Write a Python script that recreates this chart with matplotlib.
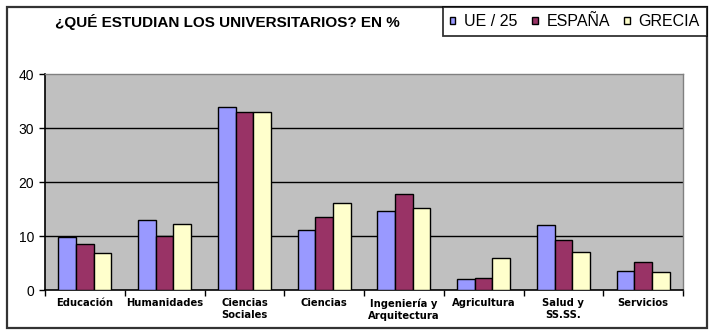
import matplotlib
matplotlib.use("Agg")
import matplotlib.pyplot as plt
import numpy as np
from matplotlib.patches import Rectangle
from matplotlib.ticker import FixedLocator

categories = ["Educación", "Humanidades", "Ciencias\nSociales", "Ciencias",
              "Ingeniería y\nArquitectura", "Agricultura", "Salud y\nSS.SS.", "Servicios"]
series_names = ["UE / 25", "ESPAÑA", "GRECIA"]
ue25 = [9.9, 13.0, 33.8, 11.1, 14.6, 2.0, 12.1, 3.5]
espana = [8.6, 10.0, 33.0, 13.5, 17.7, 2.3, 9.3, 5.1]
grecia = [6.8, 12.2, 33.0, 16.2, 15.1, 6.0, 7.0, 3.3]
yticks = [0, 10, 20, 30, 40]
title = "¿QUÉ ESTUDIAN LOS UNIVERSITARIOS? EN %"

colors = ["#9999FF", "#993366", "#FFFFCC"]

W, H = 714, 334
fig = plt.figure(figsize=(W / 100, H / 100), dpi=100)
fig.patch.set_facecolor("white")

ax = fig.add_axes([45 / W, 1 - 290 / H, (683 - 45) / W, (290 - 74) / H])
ax.set_facecolor("#C0C0C0")

x = np.arange(len(categories))
bw = 0.222
for i, (vals, c, name) in enumerate(zip([ue25, espana, grecia], colors, series_names)):
    ax.bar(x + (i - 1) * bw, vals, width=bw, color=c, edgecolor="black",
           linewidth=1.0, label=name, zorder=3)

ax.set_xlim(-0.5, len(categories) - 0.5)
ax.set_ylim(0, 40)
for yv in yticks[1:-1]:
    ax.axhline(yv, color="black", linewidth=1.0, zorder=1)

ax.set_yticks(yticks)
ax.set_yticklabels([str(v) for v in yticks], fontsize=10, family="Liberation Sans")
ax.tick_params(axis="y", direction="out", length=4, width=1, pad=4)

ax.set_xticks(x)
ax.set_xticklabels(categories, fontsize=7.2, fontweight="bold", family="DejaVu Sans",
                   linespacing=1.25)
ax.tick_params(axis="x", which="major", length=0, pad=6)
ax.xaxis.set_minor_locator(FixedLocator(np.arange(-0.5, len(categories), 1.0)))
ax.tick_params(axis="x", which="minor", direction="out", length=4, width=1)

for s in ["top", "right"]:
    ax.spines[s].set_color("#808080")
    ax.spines[s].set_linewidth(1)
for s in ["left", "bottom"]:
    ax.spines[s].set_color("black")
    ax.spines[s].set_linewidth(1.2)

# outer border
fig.add_artist(Rectangle((7 / W, 1 - 328 / H), 700 / W, 321 / H, transform=fig.transFigure,
                         fill=False, edgecolor="#333333", linewidth=1.6))

fig.text(55 / W, 1 - 22 / H, title, fontsize=11, fontweight="bold",
         family="Liberation Sans", va="center", ha="left")

leg = fig.legend(loc="upper right", bbox_to_anchor=(707 / W, 1 - 7 / H), ncol=3,
                 frameon=True, fancybox=False, edgecolor="black", borderaxespad=0,
                 prop={"family": "Liberation Sans", "size": 11.5},
                 handlelength=0.35, handleheight=0.35, handletextpad=0.55,
                 columnspacing=0.9, borderpad=0.45)
leg.get_frame().set_linewidth(1.3)

fig.savefig("out.png", dpi=100)
